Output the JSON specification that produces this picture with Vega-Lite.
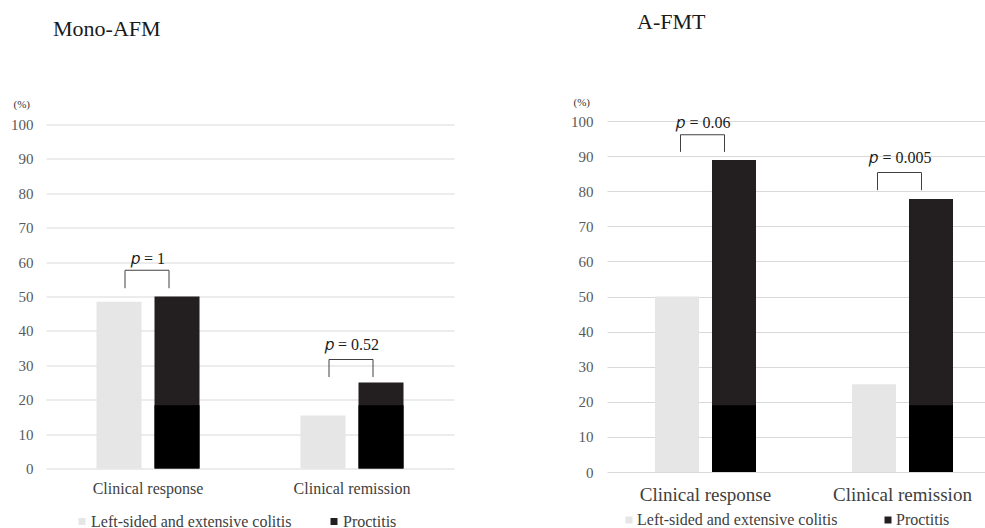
{
  "$schema": "https://vega.github.io/schema/vega-lite/v6.json",
  "padding": {"left": 10, "top": 10, "right": 0, "bottom": 0},
  "background": "white",
  "config": {"view": {"stroke": null}, "font": "Liberation Serif",
    "axisY": {"titleAngle": 0, "titleAlign": "left", "titleBaseline": "alphabetic", "titleFontSize": 11, "titleFontWeight": "normal", "titleColor": "#333333", "titleFont": "Liberation Serif", "domain": false, "ticks": false, "labelFontSize": 15, "labelColor": "#595959", "labelFont": "Liberation Serif", "gridColor": "#d9d9d9", "gridWidth": 1, "labelOverlap": false, "tickCount": 11}},
  "datasets": {
    "bars": [
      {"panel": "Mono-AFM", "outcome": "Clinical response", "group": "Left-sided and extensive colitis", "value": 48.5},
      {"panel": "Mono-AFM", "outcome": "Clinical response", "group": "Proctitis", "value": 50},
      {"panel": "Mono-AFM", "outcome": "Clinical remission", "group": "Left-sided and extensive colitis", "value": 15.4},
      {"panel": "Mono-AFM", "outcome": "Clinical remission", "group": "Proctitis", "value": 25},
      {"panel": "A-FMT", "outcome": "Clinical response", "group": "Left-sided and extensive colitis", "value": 50},
      {"panel": "A-FMT", "outcome": "Clinical response", "group": "Proctitis", "value": 88.9},
      {"panel": "A-FMT", "outcome": "Clinical remission", "group": "Left-sided and extensive colitis", "value": 25},
      {"panel": "A-FMT", "outcome": "Clinical remission", "group": "Proctitis", "value": 77.8}
    ],
    "base": [
      {"panel": "Mono-AFM", "outcome": "Clinical response", "group": "Proctitis", "value": 18.4},
      {"panel": "Mono-AFM", "outcome": "Clinical remission", "group": "Proctitis", "value": 18.4},
      {"panel": "A-FMT", "outcome": "Clinical response", "group": "Proctitis", "value": 19},
      {"panel": "A-FMT", "outcome": "Clinical remission", "group": "Proctitis", "value": 19}
    ],
    "pvals": [
      {"panel": "Mono-AFM", "outcome": "Clinical response", "label": "𝑝 = 1", "textY": 61, "top": 57.6, "bottom": 52.4},
      {"panel": "Mono-AFM", "outcome": "Clinical remission", "label": "𝑝 = 0.52", "textY": 36, "top": 31.7, "bottom": 26.6},
      {"panel": "A-FMT", "outcome": "Clinical response", "label": "𝑝 = 0.06", "textY": 99.3, "top": 96.1, "bottom": 91.2},
      {"panel": "A-FMT", "outcome": "Clinical remission", "label": "𝑝 = 0.005", "textY": 89.6, "top": 85.3, "bottom": 80.3}
    ]
  },
  "spacing": 153,
  "bounds": "flush",
  "center": true,
  "resolve": {
    "scale": {"x": "independent", "y": "independent", "xOffset": "independent", "color": "independent"},
    "legend": {"color": "independent"}
  },
  "hconcat": [
    {
      "width": 408,
      "height": 344,
      "title": {"text": "Mono-AFM", "anchor": "start", "frame": "group", "dx": 7, "fontSize": 22, "fontWeight": "normal", "font": "Liberation Serif", "color": "#1a1a1a", "offset": 58},
      "layer": [
        {
          "data": {"name": "bars"},
          "transform": [{"filter": "datum.panel == 'Mono-AFM'"}],
          "mark": {"type": "bar", "strokeWidth": 0},
          "encoding": {
            "x": {"field": "outcome", "type": "nominal", "sort": ["Clinical response", "Clinical remission"],
              "scale": {"paddingInner": 0, "paddingOuter": 0},
              "axis": {"title": null, "labelAngle": 0, "domain": false, "ticks": false, "labelFontSize": 16, "labelColor": "#404040", "labelPadding": 12, "labelFont": "Liberation Serif"}},
            "xOffset": {"field": "group", "type": "nominal", "sort": ["Left-sided and extensive colitis", "Proctitis"],
              "scale": {"domain": ["Left-sided and extensive colitis", "Proctitis"], "paddingInner": 0.224, "paddingOuter": 0.87}},
            "y": {"field": "value", "type": "quantitative", "stack": null,
              "scale": {"domain": [0, 100], "nice": false},
              "axis": {"title": "(%)", "titleX": -33, "titleY": -17, "values": [0, 10, 20, 30, 40, 50, 60, 70, 80, 90, 100], "labelPadding": 13}},
            "color": {"field": "group", "type": "nominal",
              "scale": {"domain": ["Left-sided and extensive colitis", "Proctitis"], "range": ["#e7e6e6", "#231f20"]},
              "legend": {"orient": "none", "legendX": 28, "legendY": 389, "direction": "horizontal", "title": null, "symbolType": "square", "symbolSize": 49, "symbolStrokeWidth": 0, "labelFontSize": 16, "labelFont": "Liberation Serif", "labelColor": "#404040", "labelLimit": 400, "columnPadding": 34, "labelOffset": 1,
                "encode": {"symbols": {"update": {"fill": {"signal": "datum.value === 'Proctitis' ? '#000000' : '#e7e6e6'"}}}}}}
          }
        },
        {
          "data": {"name": "base"},
          "transform": [{"filter": "datum.panel == 'Mono-AFM'"}],
          "mark": {"type": "bar", "color": "#000000", "strokeWidth": 0},
          "encoding": {
            "x": {"field": "outcome", "type": "nominal", "sort": ["Clinical response", "Clinical remission"]},
            "xOffset": {"field": "group", "type": "nominal", "sort": ["Left-sided and extensive colitis", "Proctitis"]},
            "y": {"field": "value", "type": "quantitative", "stack": null,
              "axis": {"title": "(%)", "titleX": -33, "titleY": -17, "values": [0, 10, 20, 30, 40, 50, 60, 70, 80, 90, 100], "labelPadding": 13}}
          }
        },
        {
          "data": {"name": "pvals"},
          "transform": [{"filter": "datum.panel == 'Mono-AFM'"}],
          "mark": {"type": "tick", "size": 44, "thickness": 1, "color": "#404040", "opacity": 1, "xOffset": -1},
          "encoding": {
            "x": {"field": "outcome", "type": "nominal", "sort": ["Clinical response", "Clinical remission"]},
            "y": {"field": "top", "type": "quantitative",
              "axis": {"title": "(%)", "titleX": -33, "titleY": -17, "values": [0, 10, 20, 30, 40, 50, 60, 70, 80, 90, 100], "labelPadding": 13}}
          }
        },
        {
          "data": {"name": "pvals"},
          "transform": [{"filter": "datum.panel == 'Mono-AFM'"}],
          "mark": {"type": "rule", "strokeWidth": 1, "color": "#404040", "xOffset": -23},
          "encoding": {
            "x": {"field": "outcome", "type": "nominal", "sort": ["Clinical response", "Clinical remission"]},
            "y": {"field": "bottom", "type": "quantitative",
              "axis": {"title": "(%)", "titleX": -33, "titleY": -17, "values": [0, 10, 20, 30, 40, 50, 60, 70, 80, 90, 100], "labelPadding": 13}},
            "y2": {"field": "top"}
          }
        },
        {
          "data": {"name": "pvals"},
          "transform": [{"filter": "datum.panel == 'Mono-AFM'"}],
          "mark": {"type": "rule", "strokeWidth": 1, "color": "#404040", "xOffset": 21},
          "encoding": {
            "x": {"field": "outcome", "type": "nominal", "sort": ["Clinical response", "Clinical remission"]},
            "y": {"field": "bottom", "type": "quantitative",
              "axis": {"title": "(%)", "titleX": -33, "titleY": -17, "values": [0, 10, 20, 30, 40, 50, 60, 70, 80, 90, 100], "labelPadding": 13}},
            "y2": {"field": "top"}
          }
        },
        {
          "data": {"name": "pvals"},
          "transform": [{"filter": "datum.panel == 'Mono-AFM'"}],
          "mark": {"type": "text", "fontSize": 16, "font": "Liberation Serif", "color": "#1a1a1a", "baseline": "middle"},
          "encoding": {
            "x": {"field": "outcome", "type": "nominal", "sort": ["Clinical response", "Clinical remission"]},
            "y": {"field": "textY", "type": "quantitative",
              "axis": {"title": "(%)", "titleX": -33, "titleY": -17, "values": [0, 10, 20, 30, 40, 50, 60, 70, 80, 90, 100], "labelPadding": 13}},
            "text": {"field": "label"}
          }
        }
      ]
    },
    {
      "width": 379,
      "height": 351,
      "title": {"text": "A-FMT", "anchor": "start", "frame": "group", "dx": 30, "fontSize": 22, "fontWeight": "normal", "font": "Liberation Serif", "color": "#1a1a1a", "offset": 62.5},
      "layer": [
        {
          "data": {"name": "bars"},
          "transform": [{"filter": "datum.panel == 'A-FMT'"}],
          "mark": {"type": "bar", "strokeWidth": 0},
          "encoding": {
            "x": {"field": "outcome", "type": "nominal", "sort": ["Clinical response", "Clinical remission"],
              "scale": {"paddingInner": 0, "paddingOuter": 0, "range": [0, 394]},
              "axis": {"title": null, "labelAngle": 0, "domain": false, "ticks": false, "labelFontSize": 19, "labelColor": "#404040", "labelPadding": 13, "labelFont": "Liberation Serif"}},
            "xOffset": {"field": "group", "type": "nominal", "sort": ["Left-sided and extensive colitis", "Proctitis"],
              "scale": {"domain": ["Left-sided and extensive colitis", "Proctitis"], "paddingInner": 0.228, "paddingOuter": 0.842}},
            "y": {"field": "value", "type": "quantitative", "stack": null,
              "scale": {"domain": [0, 100], "nice": false},
              "axis": {"title": "(%)", "titleX": -34, "titleY": -16, "values": [0, 10, 20, 30, 40, 50, 60, 70, 80, 90, 100], "labelPadding": 14}},
            "color": {"field": "group", "type": "nominal",
              "scale": {"domain": ["Left-sided and extensive colitis", "Proctitis"], "range": ["#e7e6e6", "#231f20"]},
              "legend": {"orient": "none", "legendX": 14, "legendY": 391, "direction": "horizontal", "title": null, "symbolType": "square", "symbolSize": 49, "symbolStrokeWidth": 0, "labelFontSize": 16, "labelFont": "Liberation Serif", "labelColor": "#404040", "labelLimit": 400, "columnPadding": 42, "labelOffset": 0,
                "encode": {"symbols": {"update": {"fill": {"signal": "datum.value === 'Proctitis' ? '#000000' : '#e7e6e6'"}}}}}}
          }
        },
        {
          "data": {"name": "base"},
          "transform": [{"filter": "datum.panel == 'A-FMT'"}],
          "mark": {"type": "bar", "color": "#000000", "strokeWidth": 0},
          "encoding": {
            "x": {"field": "outcome", "type": "nominal", "sort": ["Clinical response", "Clinical remission"]},
            "xOffset": {"field": "group", "type": "nominal", "sort": ["Left-sided and extensive colitis", "Proctitis"]},
            "y": {"field": "value", "type": "quantitative", "stack": null,
              "axis": {"title": "(%)", "titleX": -34, "titleY": -16, "values": [0, 10, 20, 30, 40, 50, 60, 70, 80, 90, 100], "labelPadding": 14}}
          }
        },
        {
          "data": {"name": "pvals"},
          "transform": [{"filter": "datum.panel == 'A-FMT'"}],
          "mark": {"type": "tick", "size": 44, "thickness": 1, "color": "#404040", "opacity": 1, "xOffset": -3},
          "encoding": {
            "x": {"field": "outcome", "type": "nominal", "sort": ["Clinical response", "Clinical remission"]},
            "y": {"field": "top", "type": "quantitative",
              "axis": {"title": "(%)", "titleX": -34, "titleY": -16, "values": [0, 10, 20, 30, 40, 50, 60, 70, 80, 90, 100], "labelPadding": 14}}
          }
        },
        {
          "data": {"name": "pvals"},
          "transform": [{"filter": "datum.panel == 'A-FMT'"}],
          "mark": {"type": "rule", "strokeWidth": 1, "color": "#404040", "xOffset": -25},
          "encoding": {
            "x": {"field": "outcome", "type": "nominal", "sort": ["Clinical response", "Clinical remission"]},
            "y": {"field": "bottom", "type": "quantitative",
              "axis": {"title": "(%)", "titleX": -34, "titleY": -16, "values": [0, 10, 20, 30, 40, 50, 60, 70, 80, 90, 100], "labelPadding": 14}},
            "y2": {"field": "top"}
          }
        },
        {
          "data": {"name": "pvals"},
          "transform": [{"filter": "datum.panel == 'A-FMT'"}],
          "mark": {"type": "rule", "strokeWidth": 1, "color": "#404040", "xOffset": 19},
          "encoding": {
            "x": {"field": "outcome", "type": "nominal", "sort": ["Clinical response", "Clinical remission"]},
            "y": {"field": "bottom", "type": "quantitative",
              "axis": {"title": "(%)", "titleX": -34, "titleY": -16, "values": [0, 10, 20, 30, 40, 50, 60, 70, 80, 90, 100], "labelPadding": 14}},
            "y2": {"field": "top"}
          }
        },
        {
          "data": {"name": "pvals"},
          "transform": [{"filter": "datum.panel == 'A-FMT'"}],
          "mark": {"type": "text", "fontSize": 16, "font": "Liberation Serif", "color": "#1a1a1a", "baseline": "middle", "xOffset": -2},
          "encoding": {
            "x": {"field": "outcome", "type": "nominal", "sort": ["Clinical response", "Clinical remission"]},
            "y": {"field": "textY", "type": "quantitative",
              "axis": {"title": "(%)", "titleX": -34, "titleY": -16, "values": [0, 10, 20, 30, 40, 50, 60, 70, 80, 90, 100], "labelPadding": 14}},
            "text": {"field": "label"}
          }
        }
      ]
    }
  ]
}
